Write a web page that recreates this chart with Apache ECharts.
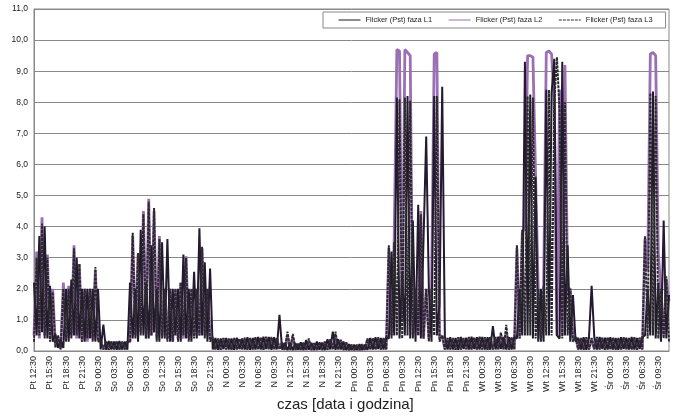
<!DOCTYPE html>
<html>
<head>
<meta charset="utf-8">
<title>Flicker (Pst)</title>
<script src="https://cdn.jsdelivr.net/npm/echarts/dist/echarts.min.js"></script>
<style>
  html, body { margin: 0; padding: 0; background: #fff; }
  #chart { width: 676px; height: 420px; }
</style>
</head>
<body>
<div id="chart"></div>
<script>
// --- data: one value per 30 min, starting at Pt 12:30 ---
const tickLabels = [
    'Pt 12:30', 'Pt 15:30', 'Pt 18:30', 'Pt 21:30',
    'So 00:30', 'So 03:30', 'So 06:30', 'So 09:30', 'So 12:30', 'So 15:30', 'So 18:30', 'So 21:30',
    'N 00:30', 'N 03:30', 'N 06:30', 'N 09:30', 'N 12:30', 'N 15:30', 'N 18:30', 'N 21:30',
    'Pn 00:30', 'Pn 03:30', 'Pn 06:30', 'Pn 09:30', 'Pn 12:30', 'Pn 15:30', 'Pn 18:30', 'Pn 21:30',
    'Wt 00:30', 'Wt 03:30', 'Wt 06:30', 'Wt 09:30', 'Wt 12:30', 'Wt 15:30', 'Wt 18:30', 'Wt 21:30',
    'Śr 00:30', 'Śr 03:30', 'Śr 06:30', 'Śr 09:30'
];

const seriesNames = ['Flicker (Pst) faza L1', 'Flicker (Pst) faza L2', 'Flicker (Pst) faza L3'];

const l1 = [
    2.2, 0.5, 3.7, 0.6, 4.0, 0.4, 2.1, 0.3, 0.55, 0.1, 0.35, 0.1,
    2.0, 0.3, 2.3, 0.5, 3.0, 0.4, 2.0, 0.3, 2.0, 0.4, 2.0, 0.3,
    2.0, 0.05, 0.85, 0.04, 0.32, 0.05, 0.3, 0.04, 0.32, 0.05, 0.3, 0.04,
    2.2, 0.4, 2.0, 0.3, 3.9, 0.5, 2.2, 0.4, 3.4, 0.6, 2.0, 0.3,
    3.5, 0.4, 3.6, 0.3, 2.0, 0.5, 2.0, 0.3, 3.1, 0.4, 2.0, 0.3,
    2.55, 0.4, 3.95, 0.5, 2.85, 0.3, 2.65, 0.05, 0.42, 0.04, 0.4, 0.06,
    0.42, 0.05, 0.4, 0.04, 0.43, 0.06, 0.4, 0.05, 0.44, 0.04, 0.42, 0.05,
    0.45, 0.05, 0.46, 0.06, 0.45, 0.04, 0.44, 0.05, 1.16, 0.04, 0.26, 0.03,
    0.26, 0.03, 0.25, 0.04, 0.28, 0.03, 0.35, 0.04, 0.26, 0.03, 0.3, 0.04,
    0.27, 0.03, 0.38, 0.05, 0.62, 0.04, 0.38, 0.05, 0.3, 0.03, 0.22, 0.03,
    0.2, 0.03, 0.22, 0.03, 0.2, 0.04, 0.42, 0.05, 0.44, 0.06, 0.42, 0.05,
    0.45, 0.4, 3.2, 0.5, 8.15, 0.4, 2.5, 0.5, 8.2, 0.4, 4.2, 0.3,
    4.7, 0.4, 3.6, 6.9, 2.0, 0.3, 8.2, 0.5, 1.5, 8.5, 0.45, 0.05,
    0.44, 0.05, 0.42, 0.04, 0.45, 0.06, 0.43, 0.05, 0.46, 0.06, 0.44, 0.05,
    0.45, 0.05, 0.44, 0.04, 0.8, 0.05, 0.46, 0.06, 0.45, 0.05, 0.44, 0.05,
    0.45, 0.4, 2.0, 0.5, 9.3, 0.5, 8.25, 0.4, 5.6, 0.3, 2.0, 0.3,
    8.4, 0.5, 8.3, 9.4, 0.5, 0.4, 9.3, 0.5, 3.4, 0.3, 1.8, 0.3,
    0.42, 0.05, 0.44, 0.04, 0.42, 2.1, 0.44, 0.05, 0.45, 0.06, 0.43, 0.05,
    0.44, 0.05, 0.42, 0.04, 0.44, 0.06, 0.43, 0.05, 0.45, 0.05, 0.42, 0.06,
    0.45, 0.5, 2.0, 0.5, 8.35, 0.4, 2.2, 0.3, 4.2, 0.4, 1.8
];

const l2 = [
    0.5, 3.2, 0.4, 4.3, 0.5, 3.1, 0.4, 2.0, 0.2, 0.45, 0.08, 2.2,
    0.4, 2.1, 0.5, 3.4, 0.4, 2.8, 0.3, 2.0, 0.3, 2.0, 0.4, 2.6,
    0.4, 0.3, 0.06, 0.28, 0.05, 0.3, 0.06, 0.3, 0.05, 0.28, 0.06, 0.3,
    0.3, 3.7, 0.5, 3.1, 0.6, 4.5, 0.4, 4.9, 0.5, 4.5, 0.4, 3.7,
    0.5, 2.0, 0.4, 2.0, 0.3, 2.0, 0.4, 2.2, 0.4, 3.05, 0.4, 2.0,
    0.5, 2.0, 0.5, 3.3, 0.5, 2.0, 0.4, 0.4, 0.06, 0.38, 0.05, 0.4,
    0.06, 0.38, 0.05, 0.4, 0.06, 0.38, 0.05, 0.4, 0.06, 0.4, 0.05, 0.42,
    0.06, 0.42, 0.05, 0.44, 0.06, 0.42, 0.05, 0.4, 0.1, 0.26, 0.04, 0.5,
    0.04, 0.45, 0.03, 0.24, 0.04, 0.26, 0.03, 0.3, 0.04, 0.24, 0.03, 0.26,
    0.04, 0.28, 0.05, 0.36, 0.06, 0.5, 0.05, 0.34, 0.04, 0.26, 0.03, 0.2,
    0.03, 0.18, 0.03, 0.2, 0.04, 0.38, 0.05, 0.4, 0.06, 0.4, 0.05, 0.4,
    0.06, 3.3, 0.5, 3.6, 9.7, 9.65, 1.0, 9.7, 9.6, 9.5, 0.5, 2.0,
    0.5, 4.5, 0.4, 2.0, 0.4, 2.0, 9.55, 9.6, 0.4, 0.5, 0.06, 0.4,
    0.06, 0.4, 0.05, 0.42, 0.06, 0.4, 0.05, 0.42, 0.06, 0.42, 0.05, 0.44,
    0.06, 0.42, 0.05, 0.44, 0.06, 0.42, 0.05, 0.5, 0.06, 0.6, 0.05, 0.42,
    0.06, 3.3, 0.4, 3.8, 4.0, 9.5, 9.5, 9.45, 5.6, 2.0, 0.4, 2.0,
    9.6, 9.65, 9.55, 8.0, 0.5, 8.4, 0.5, 9.2, 2.0, 2.0, 0.4, 0.45,
    0.06, 0.4, 0.05, 0.42, 0.06, 0.4, 0.05, 0.42, 0.06, 0.42, 0.05, 0.42,
    0.06, 0.42, 0.05, 0.4, 0.06, 0.42, 0.05, 0.4, 0.06, 0.42, 0.05, 0.42,
    0.06, 3.6, 2.6, 9.55, 9.6, 9.5, 3.15, 1.9, 0.5, 2.3, 1.6
];

const l3 = [
    0.3, 3.0, 0.5, 4.1, 0.4, 3.0, 0.3, 1.9, 0.1, 0.5, 0.05, 2.0,
    0.3, 2.0, 0.4, 3.3, 0.5, 2.8, 0.3, 2.0, 0.4, 2.0, 0.3, 2.7,
    0.3, 0.35, 0.05, 0.3, 0.04, 0.3, 0.05, 0.32, 0.04, 0.3, 0.05, 0.3,
    0.3, 3.8, 0.4, 3.15, 0.5, 4.4, 0.4, 4.8, 0.5, 4.6, 0.3, 3.6,
    0.4, 2.0, 0.3, 2.0, 0.3, 2.0, 0.3, 2.2, 0.5, 3.0, 0.3, 2.0,
    0.4, 2.0, 0.5, 3.35, 0.4, 2.0, 0.3, 0.45, 0.05, 0.4, 0.04, 0.42,
    0.05, 0.4, 0.04, 0.42, 0.05, 0.4, 0.06, 0.43, 0.04, 0.42, 0.05, 0.44,
    0.05, 0.44, 0.04, 0.46, 0.06, 0.45, 0.05, 0.42, 0.05, 0.28, 0.03, 0.62,
    0.03, 0.55, 0.04, 0.25, 0.03, 0.27, 0.04, 0.4, 0.03, 0.25, 0.04, 0.28,
    0.03, 0.3, 0.04, 0.38, 0.05, 0.62, 0.04, 0.36, 0.03, 0.28, 0.03, 0.2,
    0.03, 0.2, 0.03, 0.22, 0.04, 0.4, 0.05, 0.42, 0.04, 0.44, 0.05, 0.42,
    0.05, 3.4, 0.4, 3.5, 0.5, 8.1, 0.4, 8.15, 0.5, 8.05, 0.4, 2.0,
    0.5, 4.4, 0.4, 2.0, 0.3, 2.0, 0.5, 8.2, 0.3, 0.5, 0.05, 0.42,
    0.05, 0.42, 0.04, 0.44, 0.05, 0.42, 0.06, 0.45, 0.05, 0.43, 0.04, 0.46,
    0.05, 0.44, 0.04, 0.46, 0.05, 0.45, 0.06, 0.6, 0.05, 0.84, 0.04, 0.45,
    0.05, 3.4, 0.4, 3.9, 0.5, 8.2, 0.5, 8.15, 0.4, 2.0, 0.3, 2.1,
    0.5, 8.4, 0.5, 8.0, 9.45, 7.7, 0.4, 8.0, 0.5, 2.0, 0.3, 0.45,
    0.05, 0.42, 0.04, 0.44, 0.05, 0.42, 0.06, 0.45, 0.05, 0.43, 0.04, 0.44,
    0.05, 0.43, 0.04, 0.42, 0.05, 0.44, 0.06, 0.42, 0.05, 0.44, 0.04, 0.43,
    0.05, 3.7, 0.4, 8.3, 0.5, 8.2, 0.4, 2.0, 0.4, 2.4, 0.3
];

// category axis: a label every 6th half-hour step (every 3 hours)
const categories = l1.map((v, i) => (i % 6 === 0 ? (tickLabels[i / 6] || '') : ''));

const chart = echarts.init(document.getElementById('chart'), null, { renderer: 'canvas' });

const option = {
    animation: false,
    backgroundColor: '#fff',
    textStyle: { fontFamily: 'Liberation Sans, Arial, sans-serif' },
    grid: {
        left: 34, right: 7, top: 9, bottom: 69,
        show: true, borderColor: '#888', borderWidth: 1
    },
    legend: {
        data: seriesNames,
        left: 323, top: 12,
        itemWidth: 22, itemHeight: 8, itemGap: 16,
        padding: [4, 13, 4, 15],
        borderColor: '#888', borderWidth: 1,
        backgroundColor: '#fff',
        itemStyle: { opacity: 0 },   // line only, no marker
        lineStyle: { width: 1 },
        textStyle: { fontSize: 7.5, color: '#222' },
        z: 10
    },
    xAxis: {
        type: 'category',
        data: categories,
        boundaryGap: false,
        axisLine: { lineStyle: { color: '#888' } },
        axisTick: { show: false },
        axisLabel: { interval: 5, rotate: 90, fontSize: 9, color: '#222', margin: 5 },
        splitLine: { show: false }
    },
    yAxis: {
        type: 'value',
        min: 0, max: 11, interval: 1,
        axisLine: { show: true, lineStyle: { color: '#888' } },
        axisTick: { show: false },
        axisLabel: {
            fontSize: 8.5, color: '#222', margin: 6,
            formatter: v => v.toFixed(1).replace('.', ',')
        },
        splitLine: { lineStyle: { color: '#888', width: 1 } }
    },
    series: [
        {
            name: seriesNames[0], type: 'line', data: l1, symbol: 'none', z: 3,
            lineStyle: { color: '#231a30', width: 2 }, itemStyle: { color: '#231a30' }
        },
        {
            name: seriesNames[1], type: 'line', data: l2, symbol: 'none', z: 2,
            lineStyle: { color: '#9a6fb4', width: 2.8 }, itemStyle: { color: '#9a6fb4' }
        },
        {
            name: seriesNames[2], type: 'line', data: l3, symbol: 'none', z: 4,
            lineStyle: { color: '#2b2b2b', width: 2, type: [3, 1] }, itemStyle: { color: '#2b2b2b' }
        }
    ],
    graphic: [{
        type: 'text', left: 277, top: 397,
        style: { text: 'czas [data i godzina]', fontSize: 15, fill: '#222', fontFamily: 'Liberation Sans, Arial, sans-serif' }
    }]
};

chart.setOption(option);
</script>
</body>
</html>
